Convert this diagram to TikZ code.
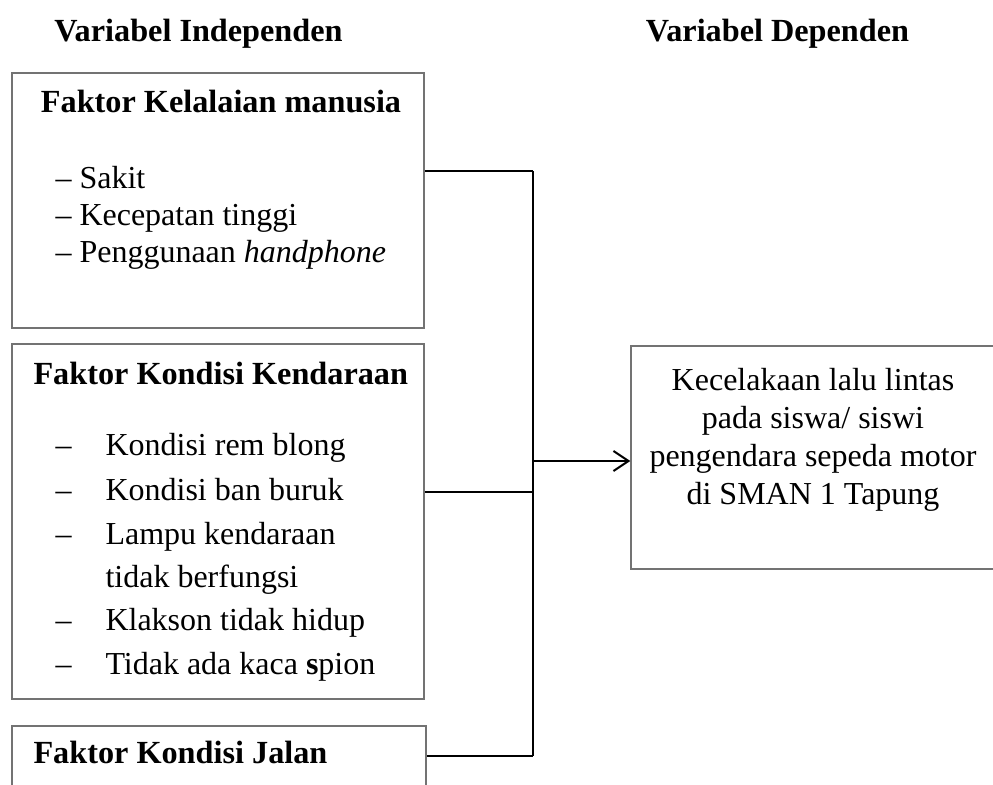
\documentclass[tikz,border=0pt]{standalone}
\usepackage{fontspec}
\setmainfont{Liberation Serif}
\usetikzlibrary{arrows.meta}
\begin{document}
\begin{tikzpicture}[x=0.4pt, y=-0.4pt,
  txt/.style={inner sep=0pt, font=\fontsize{12.8pt}{15.2pt}\selectfont},
  head/.style={txt, font=\fontsize{12.9pt}{15.2pt}\selectfont\bfseries},
  frame/.style={draw=black!55, line width=0.6pt, inner sep=0pt},
  conn/.style={line width=0.8pt}]
\clip (0,0) rectangle (993,785);
\node[head, anchor=base] (indep) at (198.5,42){Variabel Independen};
\node[head, anchor=base] (dep) at (777.5,42){Variabel Dependen};
\node[frame, minimum width=164.8pt, minimum height=102pt] (kelalaian) at (218,200.5){};
\node[head, anchor=base] (kelalaianjudul) at (221,113){Faktor Kelalaian manusia};
\node[txt, anchor=base west] (sakit) at (55,189){-- Sakit};
\node[txt, anchor=base west] (cepat) at (55,226){-- Kecepatan tinggi};
\node[txt, anchor=base west] (hp) at (55,263){-- Penggunaan \textit{handphone}};
\node[frame, minimum width=164.8pt, minimum height=142pt] (kendaraan) at (218,521.5){};
\node[head, anchor=base west] (kendaraanjudul) at (33,385){Faktor Kondisi Kendaraan};
\node[txt, anchor=base west] (d1) at (55,455){--};
\node[txt, anchor=base west] (rem) at (105,455){Kondisi rem blong};
\node[txt, anchor=base west] (d2) at (55,500){--};
\node[txt, anchor=base west] (ban) at (105,500){Kondisi ban buruk};
\node[txt, anchor=base west] (d3) at (55,544){--};
\node[txt, anchor=base west] (lampu) at (105,544){Lampu kendaraan};
\node[txt, anchor=base west] (lampu2) at (105,587){tidak berfungsi};
\node[txt, anchor=base west] (d4) at (55,630){--};
\node[txt, anchor=base west] (klakson) at (105,630){Klakson tidak hidup};
\node[txt, anchor=base west] (d5) at (55,674){--};
\node[txt, anchor=base west] (spion) at (105,674){Tidak ada kaca \textbf{s}pion};
\node[frame, minimum width=165.6pt, minimum height=41.6pt] (jalan) at (219,778){};
\node[head, anchor=base west] (jalanjudul) at (33,763){Faktor Kondisi Jalan};
\node[frame, minimum width=147.6pt, minimum height=89.2pt] (kecelakaan) at (815.5,457.5){};
\node[txt, align=center, anchor=north] (kecelakaantxt) at (813,368){Kecelakaan lalu lintas\\pada siswa/ siswi\\pengendara sepeda motor\\di SMAN 1 Tapung};
\coordinate (j1) at (533,171);
\coordinate (j2) at (533,492);
\coordinate (j3) at (533,756);
\coordinate (ja) at (533,461);
\draw[conn](kelalaian.east |- j1) -- (j1);
\draw[conn](kendaraan.east |- j2) -- (j2);
\draw[conn](jalan.east |- j3) -- (j3);
\draw[conn](j1) -- (j3);
\draw[conn, -{Straight Barb[length=6pt, width=8pt]}](ja) -- (kecelakaan.west |- ja);
\end{tikzpicture}
\end{document}
